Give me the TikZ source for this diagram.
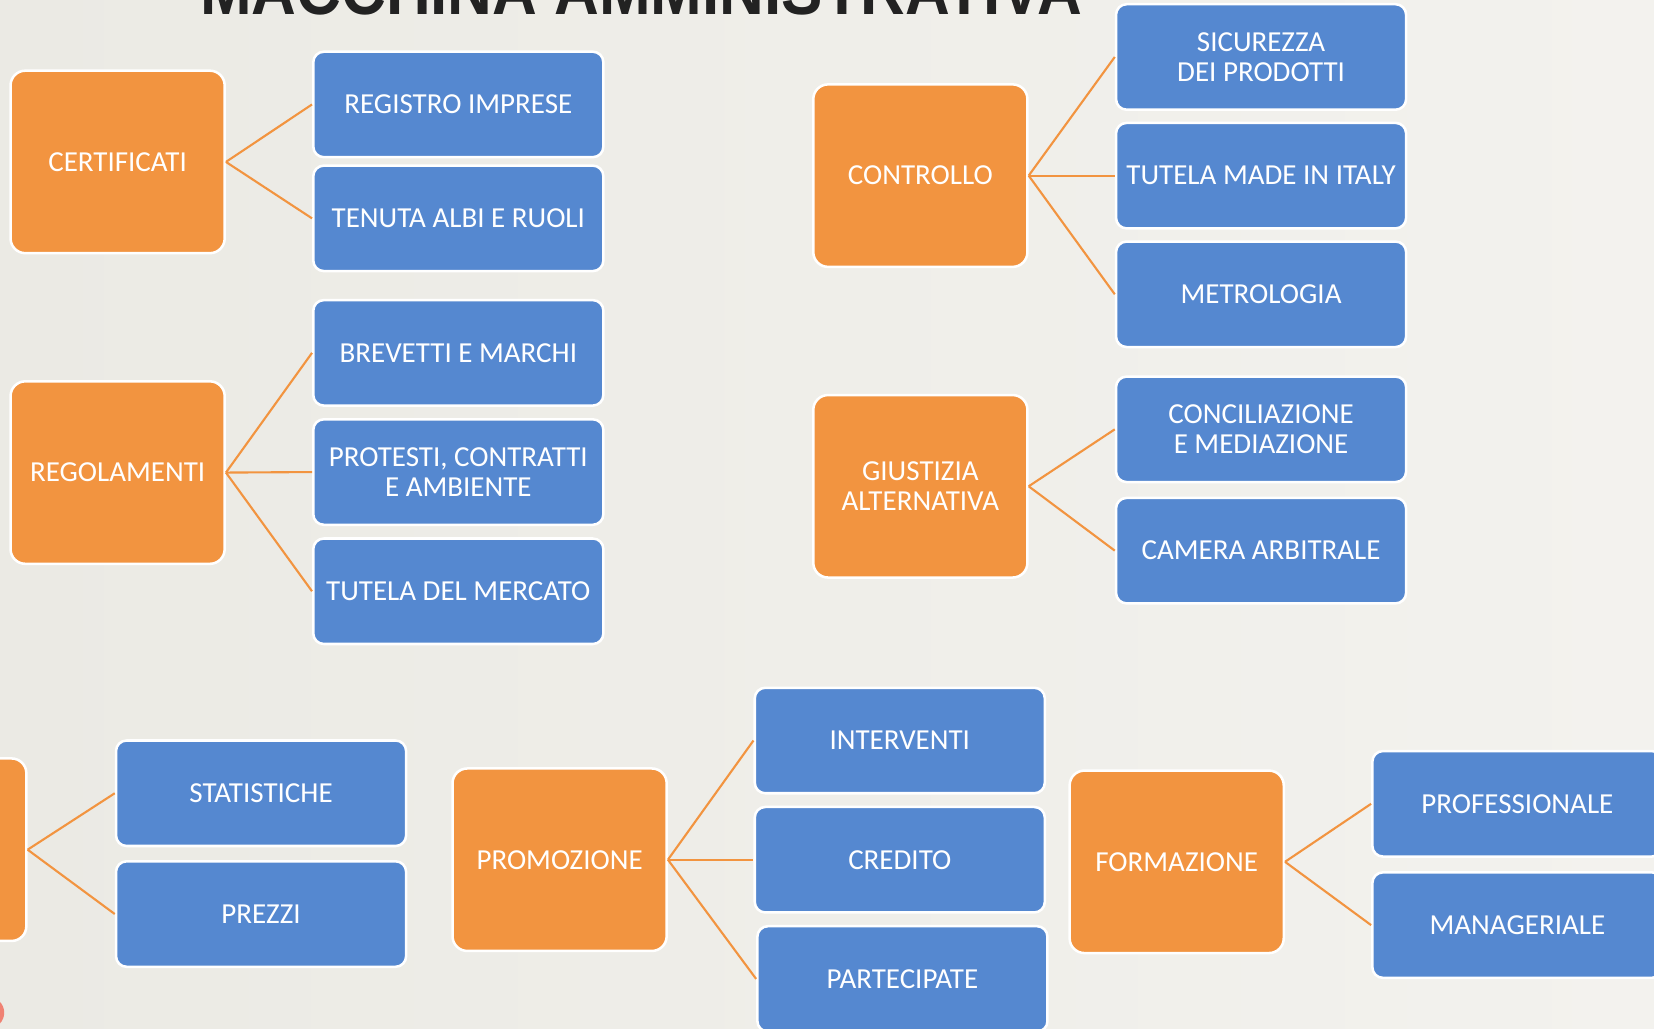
\documentclass[tikz,border=0pt]{standalone}
\usepackage{fontspec}
\setmainfont{Carlito}
\newfontfamily\titlefont{Liberation Sans}
\definecolor{boxorange}{RGB}{242,148,64}
\definecolor{boxblue}{RGB}{85,136,208}
\definecolor{bgleft}{RGB}{235,234,228}
\definecolor{bgright}{RGB}{243,242,238}
\definecolor{titlegray}{RGB}{34,34,34}
\definecolor{salmon}{RGB}{240,130,115}
\newcommand{\boxfont}{\fontsize{13.75}{14}\selectfont}
\begin{document}
\begin{tikzpicture}[x=0.5pt,y=-0.5pt,
  orangebox/.style={draw=white, line width=1.2pt, fill=boxorange, rounded corners=7pt,
    minimum width=101.5pt, minimum height=86.5pt, text=white, align=center,
    font=\boxfont, inner sep=2pt},
  bluebox/.style={draw=white, line width=1.2pt, fill=boxblue, rounded corners=5pt,
    minimum width=137.5pt, minimum height=50pt, text=white, align=center,
    font=\boxfont, inner sep=2pt},
  link/.style={draw=boxorange, line width=1pt}]
\clip (0,0) rectangle (1568,975);
\shade[left color=bgleft, right color=bgright] (0,0) rectangle (1568,975);
\node[anchor=base, text=titlegray, inner sep=0pt,
  font=\titlefont\bfseries\fontsize{33}{33}\selectfont] (title) at (608,14)
  {\scalebox{0.89}[1]{MACCHINA AMMINISTRATIVA}};
% group 1
\node[orangebox] (cert) at (111.5,153.5) {CERTIFICATI};
\node[bluebox] (regist) at (434.5,99) {REGISTRO IMPRESE};
\node[bluebox] (tenuta) at (434.5,207) {TENUTA ALBI E RUOLI};
% group 2
\node[orangebox] (regol) at (111.5,448) {REGOLAMENTI};
\node[bluebox] (brev) at (434.5,334.5) {BREVETTI E MARCHI};
\node[bluebox] (prot) at (434.5,447.5) {PROTESTI, CONTRATTI\\E AMBIENTE};
\node[bluebox] (tutm) at (434.5,560.5) {TUTELA DEL MERCATO};
% group 3
\node[orangebox] (contr) at (872.5,166.5) {CONTROLLO};
\node[bluebox] (sic) at (1195.5,54) {SICUREZZA\\DEI PRODOTTI};
\node[bluebox] (made) at (1195.5,166.5) {TUTELA MADE IN ITALY};
\node[bluebox] (metro) at (1195.5,279) {METROLOGIA};
% group 4
\node[orangebox] (giust) at (872.5,461) {GIUSTIZIA\\ALTERNATIVA};
\node[bluebox] (conc) at (1195.5,407) {CONCILIAZIONE\\E MEDIAZIONE};
\node[bluebox] (cam) at (1195.5,522) {CAMERA ARBITRALE};
% group 5
\node[orangebox] (stud) at (-76.5,805.5) {};
\node[bluebox] (stat) at (247.5,752) {STATISTICHE};
\node[bluebox] (prez) at (247.5,866.5) {PREZZI};
% group 6
\node[orangebox] (prom) at (530.5,815) {PROMOZIONE};
\node[bluebox] (interv) at (853,702) {INTERVENTI};
\node[bluebox] (cred) at (853,815) {CREDITO};
\node[bluebox] (part) at (855.5,928) {PARTECIPATE};
% group 7
\node[orangebox] (form) at (1115.5,817) {FORMAZIONE};
\node[bluebox] (prof) at (1438.5,762) {PROFESSIONALE};
\node[bluebox] (man) at (1438.5,877) {MANAGERIALE};
% connectors
\draw[link] (cert.east) -- (regist.west);
\draw[link] (cert.east) -- (tenuta.west);
\draw[link] (regol.east) -- (brev.west);
\draw[link] (regol.east) -- (prot.west);
\draw[link] (regol.east) -- (tutm.west);
\draw[link] (contr.east) -- (sic.west);
\draw[link] (contr.east) -- (made.west);
\draw[link] (contr.east) -- (metro.west);
\draw[link] (giust.east) -- (conc.west);
\draw[link] (giust.east) -- (cam.west);
\draw[link] (stud.east) -- (stat.west);
\draw[link] (stud.east) -- (prez.west);
\draw[link] (prom.east) -- (interv.west);
\draw[link] (prom.east) -- (cred.west);
\draw[link] (prom.east) -- (part.west);
\draw[link] (form.east) -- (prof.west);
\draw[link] (form.east) -- (man.west);
% decorative circle
\fill[salmon] (-11,960) circle[radius=7.5pt];
\end{tikzpicture}
\end{document}
